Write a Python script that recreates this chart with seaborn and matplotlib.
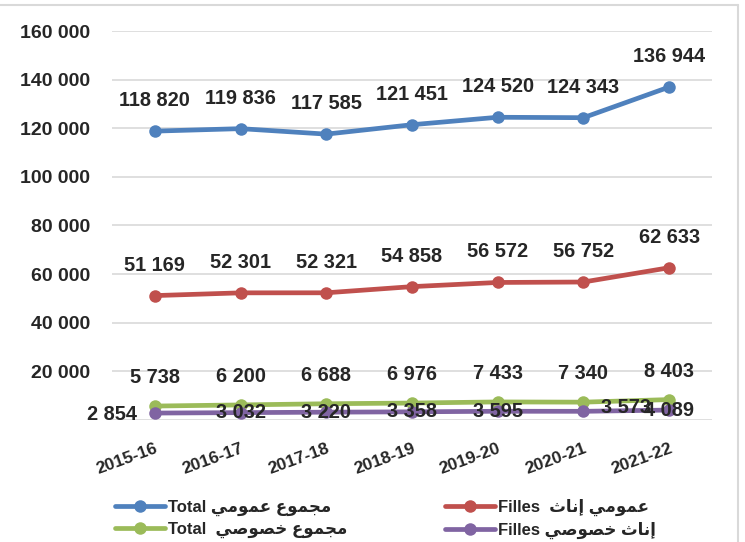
import pandas as pd
import matplotlib.pyplot as plt
import seaborn as sns
from matplotlib.lines import Line2D

# ─────────────────────────────────────────────
# DATA
# ─────────────────────────────────────────────
years = ['2015-16', '2016-17', '2017-18', '2018-19', '2019-20', '2020-21', '2021-22']
total_public = [118820, 119836, 117585, 121451, 124520, 124343, 136944]
girls_public = [51169, 52301, 52321, 54858, 56572, 56752, 62633]
total_private = [5738, 6200, 6688, 6976, 7433, 7340, 8403]
girls_private = [2854, 3032, 3220, 3358, 3595, 3573, 4089]

y_ticks = [0, 20000, 40000, 60000, 80000, 100000, 120000, 140000, 160000]

# Arabic words in presentation forms, visual (left-to-right) order,
# since matplotlib does no Arabic shaping / bidi
AR_MAJMOU = '\ufec9\ufeee\ufee4\ufea0\ufee3'   # مجموع
AR_OMOUMI = '\ufef2\ufee3\ufeee\ufee4\ufecb'   # عمومي
AR_INATH = '\ufe99\ufe8e\ufee7\ufe87'          # إناث
AR_KHOSOUSI = '\ufef2\ufebb\ufeee\ufebc\ufea7'  # خصوصي

series_names = [
    'Total ' + AR_OMOUMI + ' ' + AR_MAJMOU,
    'Filles  ' + AR_INATH + ' ' + AR_OMOUMI,
    'Total  ' + AR_KHOSOUSI + ' ' + AR_MAJMOU,
    'Filles ' + AR_KHOSOUSI + ' ' + AR_INATH,
]
series_values = [total_public, girls_public, total_private, girls_private]
colors = ['#4F81BD', '#C0504D', '#9BBB59', '#8064A2']

rows = []
for name, vals in zip(series_names, series_values):
    for yr, v in zip(years, vals):
        rows.append({'year': yr, 'value': v, 'series': name})
df = pd.DataFrame(rows)

# ─────────────────────────────────────────────
# PLOT
# ─────────────────────────────────────────────
sns.set_theme(style='white')
FONTS = ['Liberation Sans', 'DejaVu Sans']
plt.rcParams['font.family'] = FONTS
plt.rcParams['font.weight'] = 'bold'

fig = plt.figure(figsize=(7.45, 5.42), dpi=100)
ax = fig.add_axes([112 / 745, 1 - 420 / 542, 600 / 745, 389 / 542])

sns.lineplot(data=df, x='year', y='value', hue='series',
             hue_order=series_names, palette=colors, sort=False,
             marker='o', markersize=9, markeredgewidth=0,
             linewidth=3.4, legend=False, ax=ax)

ax.set_xlim(-0.5, len(years) - 0.5)
ax.set_ylim(0, 160000)
ax.set_yticks(y_ticks)
ax.set_yticklabels([''] + [f'{t:,}'.replace(',', ' ') for t in y_ticks[1:]],
                   fontsize=14, fontweight='bold')
ax.set_xticks(range(len(years)))
ax.set_xticklabels(years, rotation=20, ha='right', va='top',
                   rotation_mode='anchor', fontsize=12.5, fontweight='bold')
ax.tick_params(axis='y', length=0, pad=16)
ax.tick_params(axis='x', length=0, pad=15)
ax.set_xlabel('')
ax.set_ylabel('')
ax.yaxis.grid(True, color='#D9D9D9', linewidth=1.2)
ax.xaxis.grid(False)
for s in ax.spines.values():
    s.set_visible(False)


def fmt(v):
    return f'{v:,}'.replace(',', ' ')


# data labels above the points for the first three series
for vals, dy in zip(series_values[:3], [22, 22, 20.5]):
    for i, v in enumerate(vals):
        ax.annotate(fmt(v), (i, v), xytext=(0, dy), textcoords='offset points',
                    ha='center', va='center', fontsize=14.4, fontweight='bold')

# private girls: labels sit on the line
purple_offsets = [(-13, -1, 'right'), (0, 0, 'center'), (0, 0, 'center'),
                  (0, 0, 'center'), (0, 0, 'center'), (31, 3, 'center'),
                  (0, 0, 'center')]
for i, v in enumerate(girls_private):
    dx, dy, ha = purple_offsets[i]
    ax.annotate(fmt(v), (i, v), xytext=(dx, dy), textcoords='offset points',
                ha=ha, va='center', fontsize=14.4, fontweight='bold')

# legend: two columns, placed separately
handles = [Line2D([0], [0], color=c, linewidth=3.4, marker='o',
                  markersize=9, markeredgewidth=0) for c in colors]
leg_kw = dict(frameon=False, handlelength=3.0, handletextpad=0.15,
              borderpad=0, labelspacing=0.35,
              prop={'family': FONTS, 'weight': 'bold', 'size': 12})
fig.legend([handles[0], handles[2]], [series_names[0], series_names[2]],
           loc='center left', bbox_to_anchor=(107 / 745, 1 - 519 / 542),
           **leg_kw)
fig.legend([handles[1], handles[3]], [series_names[1], series_names[3]],
           loc='center left', bbox_to_anchor=(437 / 745, 1 - 519 / 542),
           **leg_kw)

# chart frame (top and right edges visible)
fig.add_artist(Line2D([0, 738 / 745], [1 - 5 / 542, 1 - 5 / 542],
                      transform=fig.transFigure, color='#D9D9D9', linewidth=1.5))
fig.add_artist(Line2D([738 / 745, 738 / 745], [0, 1 - 5 / 542],
                      transform=fig.transFigure, color='#D9D9D9', linewidth=1.5))

plt.savefig('out.png', dpi=100)
